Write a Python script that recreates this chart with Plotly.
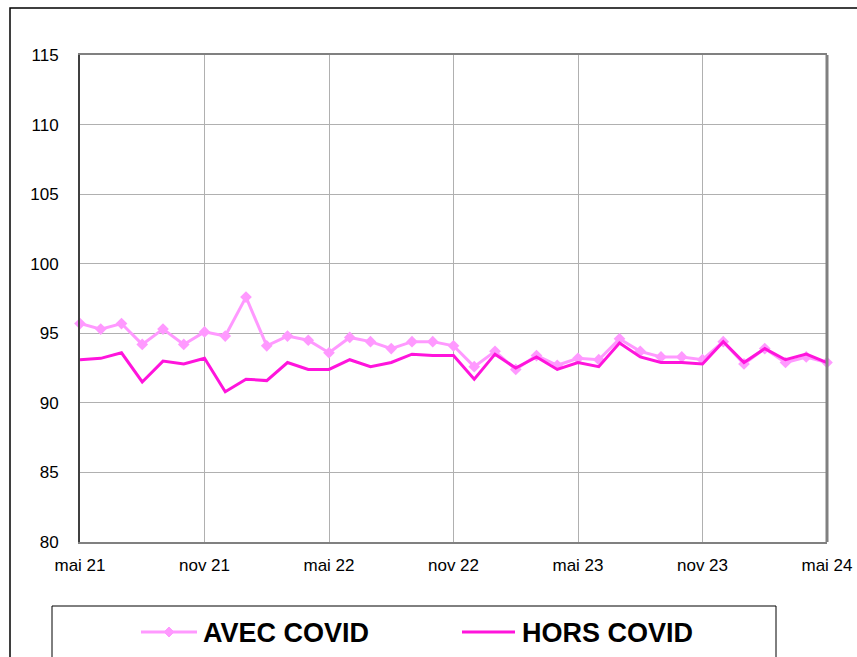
import plotly.graph_objects as go

# Monthly index values, May 2021 -> May 2024
month_names = ["janv", "févr", "mars", "avr", "mai", "juin",
               "juil", "août", "sept", "oct", "nov", "déc"]
months = []
m, yr = 4, 21
for _ in range(37):
    months.append(f"{month_names[m]} {yr}")
    m += 1
    if m == 12:
        m, yr = 0, yr + 1

avec_covid = [95.7, 95.3, 95.7, 94.2, 95.3, 94.2, 95.1, 94.8, 97.6, 94.1,
              94.8, 94.5, 93.6, 94.7, 94.4, 93.9, 94.4, 94.4, 94.1,
              92.6, 93.7, 92.4, 93.4, 92.7, 93.2, 93.1, 94.6, 93.7,
              93.3, 93.3, 93.1, 94.4, 92.8, 93.9, 92.9, 93.3, 92.9]
hors_covid = [93.1, 93.2, 93.6, 91.5, 93.0, 92.8, 93.2, 90.8, 91.7, 91.6,
              92.9, 92.4, 92.4, 93.1, 92.6, 92.9, 93.5, 93.4, 93.4,
              91.7, 93.5, 92.5, 93.3, 92.4, 92.9, 92.6, 94.3, 93.3,
              92.9, 92.9, 92.8, 94.4, 92.9, 93.9, 93.1, 93.5, 92.9]

tick_vals = months[::6]
tick_text = ["mai 21", "nov 21", "mai 22", "nov 22", "mai 23", "nov 23", "mai 24"]

C_AVEC = "#FF99FF"
C_HORS = "#FF14DC"

W, H = 857, 657
L, R, T, B = 80, 827, 55, 542


def px(x):
    return (x - L) / (R - L)


def py(y):
    return (B - y) / (B - T)


fig = go.Figure()
fig.add_trace(go.Scatter(
    x=months, y=avec_covid, name="AVEC COVID", mode="lines+markers",
    line=dict(color=C_AVEC, width=3),
    marker=dict(symbol="diamond", size=9, color=C_AVEC),
    cliponaxis=False,
))
fig.add_trace(go.Scatter(
    x=months, y=hors_covid, name="HORS COVID", mode="lines",
    line=dict(color=C_HORS, width=3),
    cliponaxis=False,
))

shapes = [
    # outer chart frame
    dict(type="rect", xref="paper", yref="paper",
         x0=px(10), x1=px(W + 20), y0=py(8), y1=py(H + 20),
         line=dict(color="black", width=1.5), layer="below"),
    # right border of plot area
    dict(type="line", xref="paper", yref="paper",
         x0=1, x1=1, y0=0, y1=1, line=dict(color="#808080", width=3)),
    # legend box
    dict(type="rect", xref="paper", yref="paper",
         x0=px(52), x1=px(776), y0=py(606), y1=py(H + 20),
         line=dict(color="black", width=1)),
    # legend keys
    dict(type="line", xref="paper", yref="paper",
         x0=px(141), x1=px(197), y0=py(632), y1=py(632),
         line=dict(color=C_AVEC, width=3)),
    dict(type="path", xref="paper", yref="paper",
         path=(f"M {px(169)} {py(627)} L {px(174)} {py(632)} "
               f"L {px(169)} {py(637)} L {px(164)} {py(632)} Z"),
         fillcolor=C_AVEC, line=dict(color=C_AVEC, width=1)),
    dict(type="line", xref="paper", yref="paper",
         x0=px(462), x1=px(515), y0=py(632), y1=py(632),
         line=dict(color=C_HORS, width=3)),
]

annotations = [
    dict(text="AVEC COVID", xref="paper", yref="paper",
         x=px(201), y=py(633), xanchor="left", yanchor="middle",
         showarrow=False,
         font=dict(family="Liberation Sans, Arial", size=27, color="black", weight="bold")),
    dict(text="HORS COVID", xref="paper", yref="paper",
         x=px(520), y=py(633), xanchor="left", yanchor="middle",
         showarrow=False,
         font=dict(family="Liberation Sans, Arial", size=27, color="black", weight="bold")),
]

fig.update_layout(
    width=W, height=H,
    margin=dict(l=L, r=W - R, t=T, b=H - B, autoexpand=False),
    paper_bgcolor="white", plot_bgcolor="white",
    showlegend=False,
    font=dict(family="Liberation Sans, Arial", size=17, color="black"),
    shapes=shapes, annotations=annotations,
    xaxis=dict(
        type="category", range=[0, 36], automargin=False,
        tickmode="array", tickvals=tick_vals, ticktext=tick_text,
        showgrid=True, gridcolor="#B0B0B0", gridwidth=1,
        showline=True, linecolor="#808080", linewidth=2, mirror=True,
        ticks="", ticklabelstandoff=7, zeroline=False,
    ),
    yaxis=dict(
        range=[80, 115], dtick=5, automargin=False,
        showgrid=True, gridcolor="#B0B0B0", gridwidth=1,
        showline=True, linecolor="#404040", linewidth=2,
        ticks="", ticklabelstandoff=16, zeroline=False,
    ),
)

fig.write_html("out.html")
